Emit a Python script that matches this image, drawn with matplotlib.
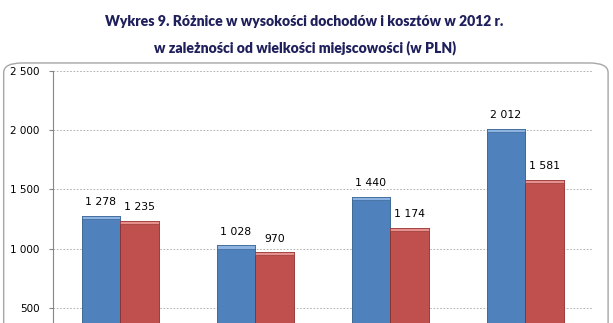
import matplotlib.pyplot as plt
import numpy as np
from matplotlib.patches import FancyBboxPatch

# values (PLN)
categories = ['A', 'B', 'C', 'D']
dochody = [1278, 1028, 1440, 2012]
koszty = [1235, 970, 1174, 1581]
y_ticks = [500, 1000, 1500, 2000, 2500]
y_labels = ['500', '1 000', '1 500', '2 000', '2 500']

title = ("Wykres 9. Różnice w wysokości dochodów i kosztów w 2012 r.\n"
         "w zależności od wielkości miejscowości (w PLN)")

blue = '#4F81BD'
red = '#C0504D'

fig = plt.figure(figsize=(6.13, 3.23), dpi=100)

# rounded frame around the plot area (runs off the bottom edge)
frame = FancyBboxPatch((0.006, -0.3), 0.986, 1.105,
                       boxstyle='round,pad=0,rounding_size=0.03',
                       transform=fig.transFigure, facecolor='white',
                       edgecolor='#A6A6A6', linewidth=1.0, zorder=-5)
fig.patches.append(frame)

fig.text(0.497, 0.955, title, ha='center', va='top', fontsize=10.1,
         fontweight='heavy', color='#1F1F5C', family='Lato', linespacing=2.05)

ax = fig.add_axes([0.086, -0.136, 0.881, 0.916])
ax.set_facecolor('none')
ax.set_zorder(2)

x = np.arange(len(categories))
w = 0.285
cap = 28

def draw(xs, vals, color, light, dark):
    ax.bar(xs, vals, w, color=color, edgecolor=dark, linewidth=0.6, zorder=3)
    ax.bar(xs, cap, w, bottom=np.array(vals) - cap, color=light,
           edgecolor=dark, linewidth=0.4, zorder=4)
    for xi, v in zip(xs, vals):
        ax.text(xi, v + 72, f'{v:,}'.replace(',', ' '), ha='center',
                va='bottom', fontsize=7.8, color='#000000', zorder=5)

draw(x - w / 2, dochody, blue, '#8DB3E2', '#2F5A8A')
draw(x + w / 2, koszty, red, '#E8908E', '#8B2E2C')

ax.set_xlim(-0.5, len(categories) - 0.5)
ax.set_ylim(0, 2500)
ax.set_yticks(y_ticks)
ax.set_yticklabels(y_labels, fontsize=7.5)
ax.set_xticks([])
ax.yaxis.grid(True, linestyle=(0, (2, 2)), color='#A6A6A6', linewidth=0.6, zorder=0)
ax.tick_params(axis='y', length=3, color='#868686', pad=6.5)
for s in ['top', 'right', 'bottom']:
    ax.spines[s].set_visible(False)
ax.spines['left'].set_color('#868686')

fig.savefig('out.png', dpi=100)
